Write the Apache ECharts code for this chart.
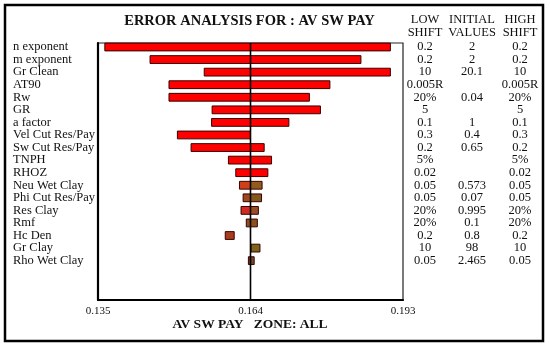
<!DOCTYPE html>
<html>
<head>
<meta charset="utf-8">
<script src="https://cdn.jsdelivr.net/npm/echarts@6/dist/echarts.min.js"></script>
<style>
html,body{margin:0;padding:0;background:#fff;}
#chart{width:550px;height:347px;}
</style>
</head>
<body>
<div id="chart"></div>
<script>
// ---- data ----
const categories = ['n exponent','m exponent','Gr Clean','AT90','Rw','GR','a factor','Vel Cut Res/Pay','Sw Cut Res/Pay','TNPH','RHOZ','Neu Wet Clay','Phi Cut Res/Pay','Res Clay','Rmf','Hc Den','Gr Clay','Rho Wet Clay'];
const barStart = [0.1363,0.1449,0.1552,0.1485,0.1485,0.1567,0.1566,0.1501,0.1527,0.1598,0.1612,0.1619,0.1626,0.1622,0.1632,0.1592,0.1641,0.1636];
const barEnd   = [0.1906,0.1850,0.1906,0.1791,0.1752,0.1773,0.1713,0.1640,0.1666,0.1680,0.1673,0.1662,0.1661,0.1655,0.1653,0.1609,0.1658,0.1647];
const centerValue = 0.164;
const xTicks = [0.135, 0.164, 0.193];
const lowShift = ['0.2','0.2','10','0.005R','20%','5','0.1','0.3','0.2','5%','0.02','0.05','0.05','20%','20%','0.2','10','0.05'];
const initialValues = ['2','2','20.1','','0.04','','1','0.4','0.65','','','0.573','0.07','0.995','0.1','0.8','98','2.465'];
const highShift = ['0.2','0.2','10','0.005R','20%','5','0.1','0.3','0.2','5%','0.02','0.05','0.05','20%','20%','0.2','10','0.05'];

// ---- styles ----
const leftColors  = ['#ff0000','#ff0000','#ff0000','#ff0000','#ff0000','#ff0000','#ff0000','#ff0000','#ff0000','#ff0000','#ff0000','#cf401a','#9c4a1c','#d02a22','#8a5020','#a83c1e','#7d6418','#6e4a28'];
const rightColors = ['#ff0000','#ff0000','#ff0000','#ff0000','#ff0000','#ff0000','#ff0000','#ff0000','#ff0000','#ff0000','#ff0000','#935a1e','#82581c','#9a4c26','#8a5020','#a83c1e','#7d6418','#6e4a28'];
const SERIF = '"Liberation Serif","Times New Roman",serif';
const BAR_H = 0.62;

const yMin = -0.318, yMax = 20.13;
// label positions: one per row, plus two blank guard values at the axis ends
const rowIdx = [yMin + 0.01].concat(categories.map((c, i) => i), [yMax - 0.01]);
function rowText(arr) {
  return function (v) {
    const r = Math.round(v);
    return (Math.abs(v - r) < 1e-6 && r >= 0 && r < arr.length) ? arr[r] : '';
  };
}

const segData = [];
categories.forEach((c, i) => {
  const s = barStart[i], e = barEnd[i];
  if (s < centerValue) segData.push([i, s, Math.min(e, centerValue), 0]);
  if (e > centerValue) segData.push([i, Math.max(s, centerValue), e, 1]);
});

function tableAxis(arr, margin) {
  return {
    type: 'value', min: yMin, max: yMax, inverse: true, position: 'right',
    axisLine: {show: false}, axisTick: {show: false}, splitLine: {show: false},
    axisLabel: {
      customValues: rowIdx, margin: margin, align: 'center',
      showMinLabel: false, showMaxLabel: false, hideOverlap: false,
      fontFamily: SERIF, fontSize: 12.5, color: '#111',
      formatter: rowText(arr)
    }
  };
}

const chart = echarts.init(document.getElementById('chart'), null, {renderer: 'canvas'});
chart.setOption({
  backgroundColor: '#fff',
  animation: false,
  grid: {left: 98, right: 147, top: 43, bottom: 47, show: true, borderColor: '#222', borderWidth: 1.2, backgroundColor: 'transparent'},
  xAxis: {
    type: 'value', min: 0.135, max: 0.193,
    axisLine: {show: true, onZero: false, lineStyle: {color: '#000', width: 2.2}},
    axisTick: {show: false}, splitLine: {show: false},
    axisLabel: {customValues: xTicks, margin: 6, showMinLabel: true, showMaxLabel: true,
      fontFamily: SERIF, fontSize: 11, color: '#111', formatter: v => v.toFixed(3)}
  },
  yAxis: [
    {
      type: 'value', min: yMin, max: yMax, inverse: true, position: 'left',
      axisLine: {show: true, onZero: false, lineStyle: {color: '#000', width: 2.2}},
      axisTick: {show: false}, splitLine: {show: false},
      axisLabel: {customValues: rowIdx, margin: 85, align: 'left',
        showMinLabel: false, showMaxLabel: false, hideOverlap: false,
        fontFamily: SERIF, fontSize: 12.5, color: '#111',
        formatter: rowText(categories)}
    },
    tableAxis(lowShift, 22),
    tableAxis(initialValues, 69),
    tableAxis(highShift, 117)
  ],
  series: [
    {
      type: 'custom',
      xAxisIndex: 0, yAxisIndex: 0,
      encode: {x: [1, 2], y: 0},
      data: segData,
      renderItem: function (params, api) {
        const row = api.value(0);
        const p0 = api.coord([api.value(1), row]);
        const p1 = api.coord([api.value(2), row]);
        const h = api.size([0, BAR_H])[1];
        const side = api.value(3);
        const color = side === 0 ? leftColors[row] : rightColors[row];
        return {
          type: 'rect',
          shape: {x: p0[0], y: p0[1] - h / 2, width: p1[0] - p0[0], height: h},
          style: {fill: color, stroke: '#3a0000', lineWidth: 1}
        };
      },
      z: 2
    },
    {
      type: 'custom',
      xAxisIndex: 0, yAxisIndex: 0,
      encode: {x: 0},
      data: [[centerValue]],
      renderItem: function (params, api) {
        const v = api.value(0);
        const a = api.coord([v, yMin]);
        const b = api.coord([v, yMax]);
        return {
          type: 'line',
          shape: {x1: a[0], y1: a[1], x2: b[0], y2: b[1]},
          style: {stroke: '#000', lineWidth: 1.6}
        };
      },
      z: 5
    }
  ],
  graphic: [
    {type: 'rect', shape: {x: 5, y: 5, width: 538, height: 336}, style: {fill: 'none', stroke: '#000', lineWidth: 2.5}, z: 100},
    {type: 'text', x: 249.5, y: 21.5, style: {text: 'ERROR ANALYSIS FOR : AV SW PAY', font: 'bold 14.5px ' + SERIF, fill: '#111', textAlign: 'center', textVerticalAlign: 'middle'}},
    {type: 'text', x: 425, y: 26.5, style: {text: 'LOW\nSHIFT', font: '12.5px ' + SERIF, fill: '#111', textAlign: 'center', textVerticalAlign: 'middle', lineHeight: 13}},
    {type: 'text', x: 472, y: 26.5, style: {text: 'INITIAL\nVALUES', font: '12.5px ' + SERIF, fill: '#111', textAlign: 'center', textVerticalAlign: 'middle', lineHeight: 13}},
    {type: 'text', x: 520, y: 26.5, style: {text: 'HIGH\nSHIFT', font: '12.5px ' + SERIF, fill: '#111', textAlign: 'center', textVerticalAlign: 'middle', lineHeight: 13}},
    {type: 'text', x: 250, y: 325, style: {text: 'AV SW PAY   ZONE: ALL', font: 'bold 13.5px ' + SERIF, fill: '#111', textAlign: 'center', textVerticalAlign: 'middle'}}
  ]
});
</script>
</body>
</html>
